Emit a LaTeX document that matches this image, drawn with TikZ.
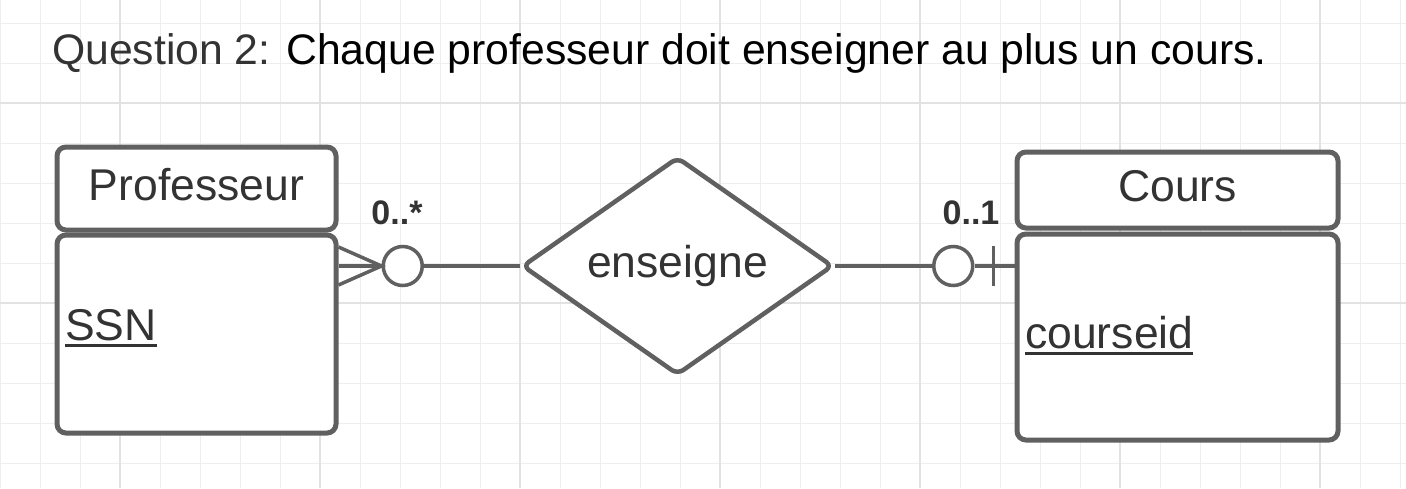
\documentclass[tikz,border=0pt]{standalone}
\usepackage{fontspec}
\setmainfont{Liberation Sans}
\usetikzlibrary{calc,positioning,shapes.geometric}

\definecolor{erline}{HTML}{606060}
\definecolor{ertext}{HTML}{333333}
\definecolor{gridminor}{HTML}{EEEEEE}
\definecolor{gridmajor}{HTML}{E2E2E2}
\newcommand{\pkey}[1]{\setbox0=\hbox{#1}\rlap{\rule[-6.5pt]{\wd0}{3pt}}\box0}
\newcommand{\erfont}{\fontsize{44.5}{52}\selectfont}

\tikzset{
  entete/.style={draw=erline, fill=white, line width=5pt, rounded corners=9pt,
    text=ertext, font=\erfont, text height=31pt, text depth=8pt, inner sep=0pt},
  corps/.style={draw=erline, fill=white, line width=5pt, rounded corners=9pt},
  relation/.style={diamond, draw=erline, fill=white, line width=4.5pt, rounded corners=7pt,
    aspect=1.5, inner sep=1pt, text=ertext, font=\erfont,
    minimum width=311pt, minimum height=218pt},
  card/.style={circle, draw=erline, fill=white, line width=3.5pt, minimum size=39pt, inner sep=0pt},
  conn/.style={draw=erline, line width=3.5pt},
  multi/.style={text=ertext, font=\bfseries\fontsize{34}{40}\selectfont, inner sep=0pt},
  attr/.style={anchor=base west, text=ertext, font=\erfont, inner sep=0pt}
}

\begin{document}
\begin{tikzpicture}[x=1pt, y=-1pt]
 \useasboundingbox[fill=white] (0,0) rectangle (1406,488);
 % grille
 \foreach \x in {0,40,...,1400}
  \draw[gridminor, line width=1pt] (\x,0) -- (\x,488);
 \foreach \y in {23,63,...,463}
  \draw[gridminor, line width=1pt] (0,\y) -- (1406,\y);
 \foreach \x in {120,320,...,1320}
  \draw[gridmajor, line width=1.2pt] (\x,0) -- (\x,488);
 \foreach \y in {103,303}
  \draw[gridmajor, line width=1.2pt] (0,\y) -- (1406,\y);

 \node[anchor=base west, inner sep=0pt, font=\fontsize{42.7}{50}\selectfont] (titre) at (52,64)
  {\textcolor{ertext}{Question 2:} Chaque professeur doit enseigner au plus un cours.};

 % entites
 \node[entete, minimum width=279pt, minimum height=83pt] (phead) at (196.5,188.5) {Professeur};
 \node[corps, minimum width=279pt, minimum height=198pt] (pbody) at (196.5,334) {};
 \node[attr] (pssn) at (65,340) {\pkey{SSN}};

 \node[entete, minimum width=321pt, minimum height=76pt] (chead) at (1177.5,190) {Cours};
 \node[corps, minimum width=321pt, minimum height=206pt] (cbody) at (1177.5,337) {};
 \node[attr] (cid) at (1025,348) {\pkey{courseid}};

 % relation
 \node[relation] (rel) at (677.5,266) {enseigne};

 % cote professeur : 0..*
 \coordinate (pa) at (pbody.east |- rel.west);
 \coordinate (pa1) at ($(pa)+(0,-19)$);
 \coordinate (pa2) at ($(pa)+(0,19)$);
 \node[card, right=43pt of pa] (pc) {};
 \draw[conn] (pa1) -- (pc.west) -- (pa2);
 \draw[conn] (pa) -- (pc.west);
 \draw[conn] (pc) -- (rel);
 \node[multi] (pmult) at (397,213) {0..*};

 % cote cours : 0..1
 \coordinate (ca) at (cbody.west |- rel.east);
 \node[card, left=40pt of ca] (cc) {};
 \coordinate (ct1) at ($(ca)+(-21,-20)$);
 \coordinate (ct2) at ($(ca)+(-21,20)$);
 \draw[conn] (rel) -- (cc);
 \draw[conn] (cc) -- (ca);
 \draw[conn] (ct1) -- (ct2);
 \node[multi] (cmult) at (971,213) {0..1};
\end{tikzpicture}
\end{document}
